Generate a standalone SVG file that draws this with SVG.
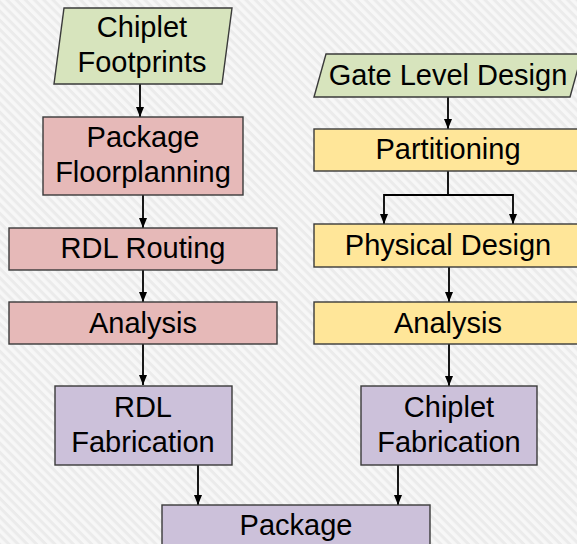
<svg xmlns="http://www.w3.org/2000/svg" width="577" height="544" viewBox="0 0 577 544">
<style>
text{font-family:"Liberation Sans",Arial,sans-serif;font-size:29px;fill:#000;text-anchor:middle}
.box{stroke:#3a3a3a;stroke-width:1.4}
.in{fill:#d7e4bd}
.pk{fill:#e6b9b8}
.ye{fill:#ffe699}
.lv{fill:#ccc1da}
.con{fill:none;stroke:#000;stroke-width:1.8}
</style>
<defs>
<pattern id="bg" width="6.5" height="6.5" patternUnits="userSpaceOnUse" patternTransform="rotate(-45)">
<rect width="6.5" height="6.5" fill="#ebebeb"/>
<rect width="3.5" height="6.5" fill="#f7f7f7"/>
</pattern>
<marker id="ah" viewBox="0 0 10 10" refX="10" refY="5" markerWidth="10" markerHeight="10" markerUnits="userSpaceOnUse" orient="auto">
<path d="M0,1 L10,5 L0,9 z" fill="#000"/>
</marker>
</defs>
<rect width="577" height="544" fill="url(#bg)"/>
<g id="connectors">
<path class="con" d="M140,84 V117" marker-end="url(#ah)"/>
<path class="con" d="M143,195 V228" marker-end="url(#ah)"/>
<path class="con" d="M143,270 V302" marker-end="url(#ah)"/>
<path class="con" d="M143,344 V385" marker-end="url(#ah)"/>
<path class="con" d="M448,97 V129" marker-end="url(#ah)"/>
<path class="con" d="M448,171 V195 M384,195 H513"/>
<path class="con" d="M384,194 V224" marker-end="url(#ah)"/>
<path class="con" d="M513,194 V224" marker-end="url(#ah)"/>
<path class="con" d="M449,267 V302" marker-end="url(#ah)"/>
<path class="con" d="M449,344 V386" marker-end="url(#ah)"/>
<path class="con" d="M198,465 V505" marker-end="url(#ah)"/>
<path class="con" d="M398,465 V505" marker-end="url(#ah)"/>
</g>
<g id="chiplet-footprints">
<polygon class="box in" points="64,8 232,8 222,84 54,84"/>
<text x="142" y="37">Chiplet</text>
<text x="142" y="72">Footprints</text>
</g>
<g id="package-floorplanning">
<rect class="box pk" x="43" y="117" width="200" height="78"/>
<text x="143" y="147">Package</text>
<text x="143" y="182">Floorplanning</text>
</g>
<g id="rdl-routing">
<rect class="box pk" x="9" y="228" width="268" height="42"/>
<text x="143" y="258">RDL Routing</text>
</g>
<g id="analysis-left">
<rect class="box pk" x="9" y="302" width="268" height="42"/>
<text x="143" y="333">Analysis</text>
</g>
<g id="rdl-fabrication">
<rect class="box lv" x="55" y="386" width="177" height="79"/>
<text x="143" y="417">RDL</text>
<text x="143" y="452">Fabrication</text>
</g>
<g id="gate-level-design">
<polygon class="box in" points="326,54 582,54 570,97 314,97"/>
<text x="448" y="85">Gate Level Design</text>
</g>
<g id="partitioning">
<rect class="box ye" x="314" y="129" width="270" height="42"/>
<text x="448" y="159">Partitioning</text>
</g>
<g id="physical-design">
<rect class="box ye" x="314" y="224" width="270" height="43"/>
<text x="448" y="255">Physical Design</text>
</g>
<g id="analysis-right">
<rect class="box ye" x="314" y="302" width="270" height="42"/>
<text x="448" y="333">Analysis</text>
</g>
<g id="chiplet-fabrication">
<rect class="box lv" x="361" y="386" width="176" height="79"/>
<text x="449" y="417">Chiplet</text>
<text x="449" y="452">Fabrication</text>
</g>
<g id="package">
<rect class="box lv" x="162" y="505" width="268" height="45"/>
<text x="296" y="535">Package</text>
</g>
</svg>
